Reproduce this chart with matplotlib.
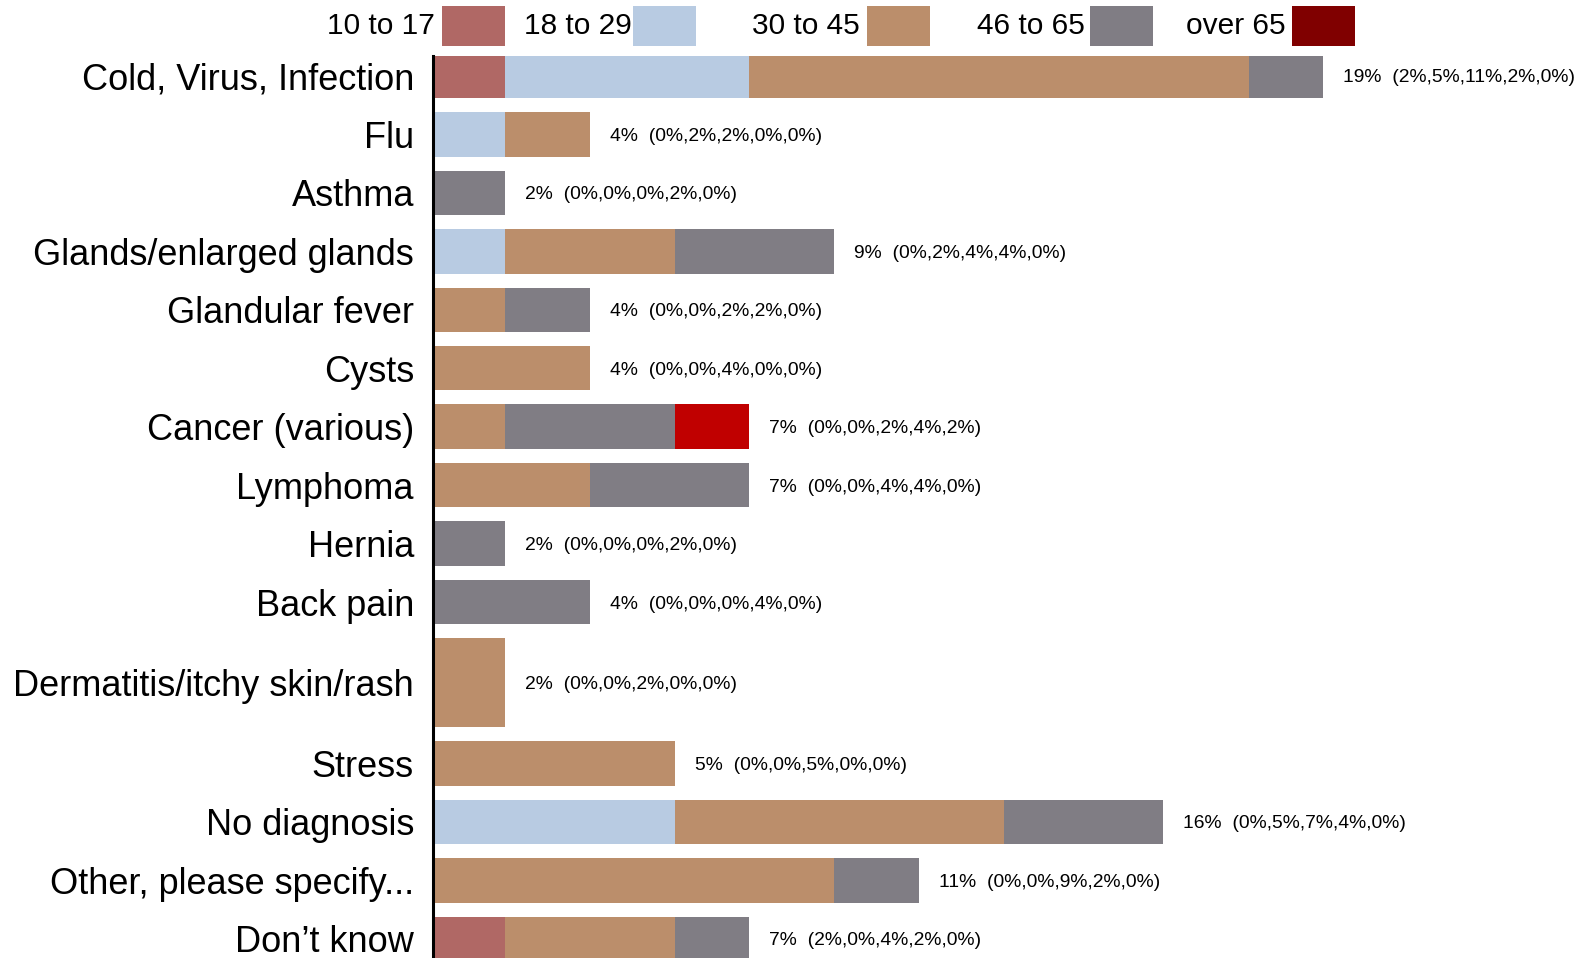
import numpy as np
import matplotlib
matplotlib.use('Agg')
import matplotlib.pyplot as plt
from matplotlib import font_manager
from matplotlib.patches import Rectangle

# data
categories = ['Cold, Virus, Infection', 'Flu', 'Asthma', 'Glands/enlarged glands',
              'Glandular fever', 'Cysts', 'Cancer (various)', 'Lymphoma', 'Hernia',
              'Back pain', 'Dermatitis/itchy skin/rash', 'Stress', 'No diagnosis',
              'Other, please specify...', 'Don\u2019t know']
groups = ['10 to 17', '18 to 29', '30 to 45', '46 to 65', 'over 65']

# drawn bar lengths per age group (chart units, as they appear)
len_10_17 = [1.60, 0, 0, 0, 0, 0, 0, 0, 0, 0, 0, 0, 0, 0, 1.60]
len_18_29 = [5.42, 1.60, 0, 1.60, 0, 0, 0, 0, 0, 0, 0, 0, 5.38, 0, 0]
len_30_45 = [11.11, 1.89, 0, 3.78, 1.60, 3.49, 1.60, 3.49, 0, 0, 1.60, 5.38, 7.31, 8.91, 3.78]
len_46_65 = [1.64, 0, 1.60, 3.53, 1.89, 0, 3.78, 3.53, 1.60, 3.49, 0, 0, 3.53, 1.89, 1.64]
len_over65 = [0, 0, 0, 0, 0, 0, 1.64, 0, 0, 0, 0, 0, 0, 0, 0]

# printed percentages
total_pct = [19, 4, 2, 9, 4, 4, 7, 7, 2, 4, 2, 5, 16, 11, 7]
pct_10_17 = [2, 0, 0, 0, 0, 0, 0, 0, 0, 0, 0, 0, 0, 0, 2]
pct_18_29 = [5, 2, 0, 2, 0, 0, 0, 0, 0, 0, 0, 0, 5, 0, 0]
pct_30_45 = [11, 2, 0, 4, 2, 4, 2, 4, 0, 0, 2, 5, 7, 9, 4]
pct_46_65 = [2, 0, 2, 4, 2, 0, 4, 4, 2, 4, 0, 0, 4, 2, 2]
pct_over65 = [0, 0, 0, 0, 0, 0, 2, 0, 0, 0, 0, 0, 0, 0, 0]

bar_colors = ['#B06865', '#B8CBE2', '#BB8E6B', '#807D84', '#C00000']
legend_colors = ['#B06865', '#B8CBE2', '#BB8E6B', '#807D84', '#800000']

W, H = 1585, 958
fig = plt.figure(figsize=(W / 100, H / 100), dpi=100)

x0_px, top_px = 433, 55.6
px_per_unit = 45.0
slot_px = 58.46
ax = fig.add_axes([x0_px / W, 0, (W - x0_px) / W, (H - top_px) / H])

# row layout: dermatitis row is twice as tall
span = np.array([2 if c.startswith('Dermatitis') else 1 for c in categories], float)
bar_h = 0.76 * span
gap = 0.24
tops = np.concatenate([[0], np.cumsum(bar_h + gap)[:-1]])
centers = tops + bar_h / 2

segs = np.array([len_10_17, len_18_29, len_30_45, len_46_65, len_over65])
left = np.zeros(len(categories))
for seg, col in zip(segs, bar_colors):
    ax.barh(centers, seg, height=bar_h, left=left, color=col, linewidth=0)
    left = left + seg

pcts = np.array([pct_10_17, pct_18_29, pct_30_45, pct_46_65, pct_over65])
for i in range(len(categories)):
    txt = '%d%%  (%s)' % (total_pct[i], ','.join('%d%%' % p for p in pcts[:, i]))
    ax.text(left[i] + 20 / px_per_unit, centers[i], txt, fontsize=13.9,
            family='Liberation Sans', va='center_baseline', ha='left')

y_off = (top_px - 53.7) / slot_px
ax.set_ylim(y_off + (H - top_px) / slot_px, y_off)
ax.set_xlim(0, (W - x0_px) / px_per_unit)

ax.set_yticks(centers)
ax.set_yticklabels(categories, fontsize=26, family='Liberation Sans')
ax.tick_params(axis='y', length=0, pad=13.7)
ax.set_xticks([])
for s in ['top', 'right', 'bottom']:
    ax.spines[s].set_visible(False)
ax.spines['left'].set_linewidth(2.2)
ax.spines['left'].set_color('black')

# legend: label then swatch, placed along the top
names = {f.name for f in font_manager.fontManager.ttflist}
if 'Liberation Sans Narrow' in names:
    leg_family, leg_size = 'Liberation Sans Narrow', 26
else:
    leg_family, leg_size = 'Liberation Sans', 21.5
text_right = [435, 632, 860, 1085, 1286]
patch_left = [442, 633, 867, 1090, 1292]
patch_w, patch_top, patch_bot = 63, 6, 45.5
for name, col, tr, pl in zip(groups, legend_colors, text_right, patch_left):
    fig.add_artist(Rectangle((pl / W, 1 - patch_bot / H), patch_w / W,
                             (patch_bot - patch_top) / H, transform=fig.transFigure,
                             facecolor=col, edgecolor='none'))
    fig.text(tr / W, 1 - 26 / H, name, ha='right', va='center',
             fontsize=leg_size, family=leg_family)

fig.savefig('out.png', dpi=100)
